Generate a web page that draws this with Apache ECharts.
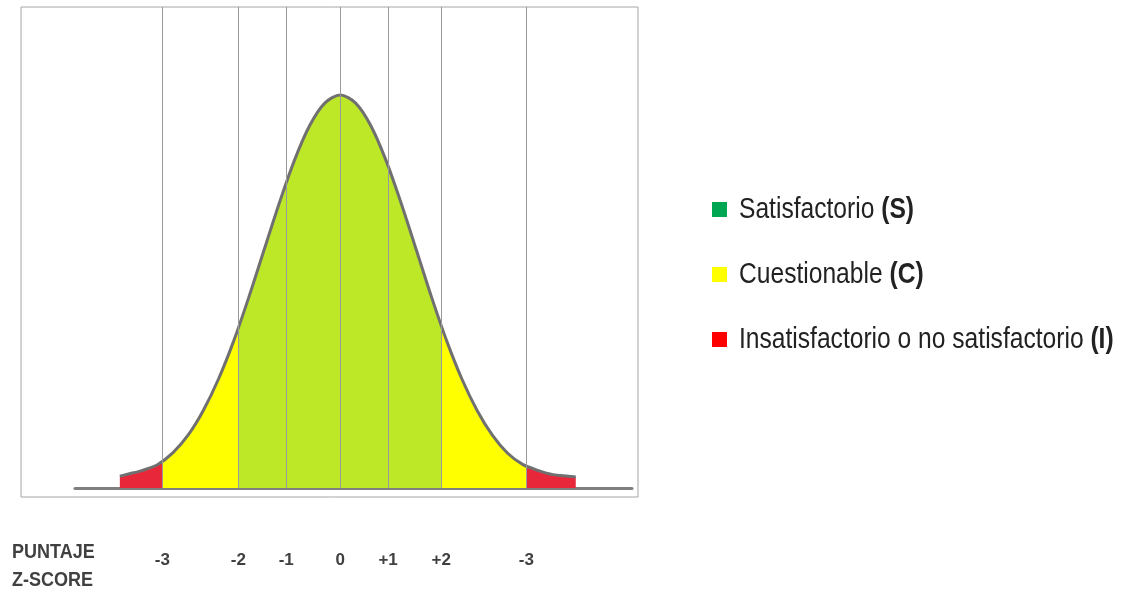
<!DOCTYPE html>
<html><head><meta charset="utf-8">
<script src="https://cdn.jsdelivr.net/npm/echarts@6/dist/echarts.min.js"></script>
<style>html,body{margin:0;padding:0;background:#fff}#c{width:1136px;height:589px}</style>
</head><body><div id="c"></div>
<script>
// curve (x in sigma-like display units, y relative height)
const curveX = [-2.9,-2.8,-2.6,-2.4,-2.2,-2.0,-1.8,-1.6,-1.4,-1.2,-1.0,-0.8,-0.6,-0.4,-0.2,0,0.2,0.4,0.6,0.8,1.0,1.2,1.4,1.6,1.8,2.0,2.2,2.4,2.6,2.8,3.0,3.1];
const curveY = [0.030,0.035,0.045,0.060,0.090,0.135,0.198,0.278,0.375,0.487,0.607,0.726,0.835,0.923,0.980,1,0.980,0.923,0.835,0.726,0.607,0.487,0.375,0.278,0.198,0.135,0.089,0.060,0.045,0.034,0.030,0.028];
const boundaries = [-2.34,-1.34,-0.71,0,0.63,1.33,2.45];
const tickLabels = ['-3','-2','-1','0','+1','+2','-3'];
const legendItems = [['Satisfactorio ','(S)','#00a651'],['Cuestionable ','(C)','#ffff00'],['Insatisfactorio o no satisfactorio ','(I)','#ff0000']];

const data = curveX.map((x,i)=>[x,curveY[i]]);
const font = "'Liberation Sans',Arial,sans-serif";
const chart = echarts.init(document.getElementById('c'));
chart.setOption({
  animation:false,
  grid:{left:75,top:7,width:557,height:481},
  xAxis:{type:'value',min:-3.49,max:3.84,splitLine:{show:false},
    axisLine:{lineStyle:{color:'#7f7f7f',width:3}},axisTick:{show:false},
    axisLabel:{customValues:boundaries,margin:64,fontSize:17,fontWeight:'bold',color:'#404040',fontFamily:'Arial',
      formatter:(v)=>{let i=boundaries.findIndex(b=>Math.abs(b-v)<1e-6);return i>=0?tickLabels[i]:'';}}},
  yAxis:{type:'value',min:0,max:1.224,show:false},
  visualMap:{show:false,type:'piecewise',dimension:0,seriesIndex:0,pieces:[
    {lt:-2.34,color:'#e8283a'},{gte:-2.34,lt:-1.34,color:'#ffff00'},{gte:-1.34,lt:1.33,color:'#bde828'},
    {gte:1.33,lt:2.45,color:'#ffff00'},{gte:2.45,color:'#e8283a'}]},
  series:[
    {type:'line',data:data,smooth:0.3,symbol:'none',lineStyle:{width:0},areaStyle:{opacity:1},z:1},
    {type:'line',data:data,smooth:0.3,symbol:'none',lineStyle:{color:'#707070',width:3},z:3,
     markLine:{silent:true,symbol:'none',label:{show:false},lineStyle:{color:'#9a9a9a',width:1,type:'solid'},
       data:boundaries.map(b=>({xAxis:b}))}}
  ],
  graphic:[
    {type:'rect',shape:{x:21,y:7,width:617,height:490},style:{fill:'none',stroke:'#a6a6a6',lineWidth:1},z:0},
    {type:'text',x:12,y:538,scaleX:0.9,style:{text:'PUNTAJE\nZ-SCORE',font:'bold 20px Arial',fill:'#404040',lineHeight:28}},
    ...legendItems.flatMap((it,i)=>[
      {type:'rect',shape:{x:712,y:202+i*65,width:15,height:15},style:{fill:it[2]}},
      {type:'text',x:739,y:195+i*65,scaleX:0.82,style:{text:'{a|'+it[0]+'}{b|'+it[1]+'}',
        rich:{a:{fontSize:30,fontFamily:font,fill:'#222'},b:{fontSize:30,fontFamily:font,fontWeight:'bold',fill:'#222'}}}}
    ])
  ]
});
</script></body></html>
